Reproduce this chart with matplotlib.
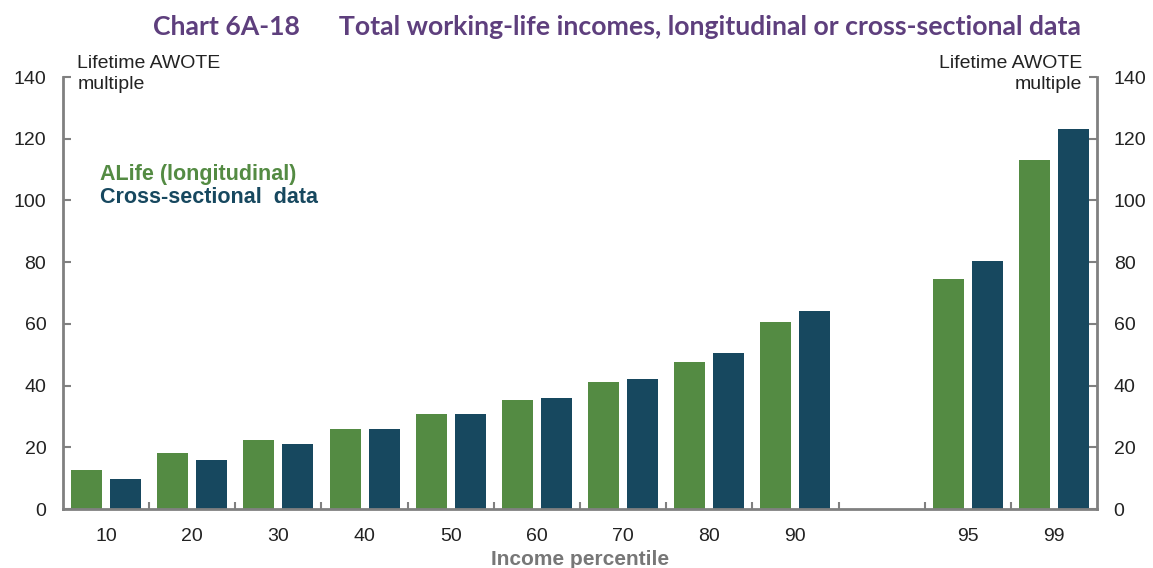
import matplotlib
matplotlib.use("Agg")
import matplotlib.pyplot as plt
import numpy as np

categories = ["10", "20", "30", "40", "50", "60", "70", "80", "90", "", "95", "99"]
alife = [12.6, 18.1, 22.3, 25.8, 30.7, 35.2, 41.0, 47.8, 60.7, None, 74.6, 113.1]
cross = [9.7, 15.8, 21.0, 25.8, 30.7, 35.9, 42.0, 50.4, 64.3, None, 80.5, 123.1]
yticks = [0, 20, 40, 60, 80, 100, 120, 140]

GREEN = "#548B43"
BLUE = "#17485F"
GREY = "#808080"
TXT = "#222222"

plt.rcParams['font.family'] = ['Liberation Sans', 'DejaVu Sans']

fig = plt.figure(figsize=(11.53, 5.68), dpi=100)
ax = fig.add_axes([63/1153, 59/568, (1097-63)/1153, (509-77)/568])

x = np.arange(len(categories))
w = 0.36
off = 0.227
for i, (a, c) in enumerate(zip(alife, cross)):
    if a is not None:
        ax.bar(x[i] - off, a, width=w, color=GREEN)
    if c is not None:
        ax.bar(x[i] + off, c, width=w, color=BLUE)

ax.set_xlim(-0.5, len(categories) - 0.5)
ax.set_ylim(0, 140)
ax.set_yticks(yticks)
ax.set_xticks(x)
ax.set_xticklabels(categories)
ax.set_xticks(np.arange(0.5, len(categories) - 1, 1.0), minor=True)

ax.spines["top"].set_visible(False)
for s in ["left", "right", "bottom"]:
    ax.spines[s].set_color(GREY)
    ax.spines[s].set_linewidth(2)

ax.tick_params(axis="y", which="major", direction="in", length=6, width=1.5, color=GREY,
               left=True, right=True, labelleft=True, labelright=True,
               labelsize=14, labelcolor=TXT, pad=12)
ax.tick_params(axis="x", which="major", length=0, labelsize=14, labelcolor=TXT, pad=14)
ax.tick_params(axis="x", which="minor", direction="in", length=5, width=1.5, color=GREY)

ax.set_xlabel("Income percentile", fontsize=15, fontweight="bold", color="#777777", labelpad=3)

ax.text(0.014, 1.05, "Lifetime AWOTE\nmultiple", transform=ax.transAxes, ha="left", va="top",
        fontsize=14, color=TXT, linespacing=1.25)
ax.text(0.986, 1.05, "Lifetime AWOTE\nmultiple", transform=ax.transAxes, ha="right", va="top",
        fontsize=14, color=TXT, linespacing=1.25, multialignment="right")

ax.text(0.036, 0.775, "ALife (longitudinal)", transform=ax.transAxes, fontsize=15.5,
        fontweight="bold", color=GREEN, va="center")
ax.text(0.036, 0.722, "Cross-sectional  data", transform=ax.transAxes, fontsize=15.5,
        fontweight="bold", color=BLUE, va="center")

fig.text(0.535, 0.952, "Chart 6A-18      Total working-life incomes, longitudinal or cross-sectional data",
         ha="center", va="center", fontsize=19.2, fontweight="bold", color="#5E3F7D",
         family=["Lato", "DejaVu Sans"])

fig.savefig("out.png", dpi=100)
